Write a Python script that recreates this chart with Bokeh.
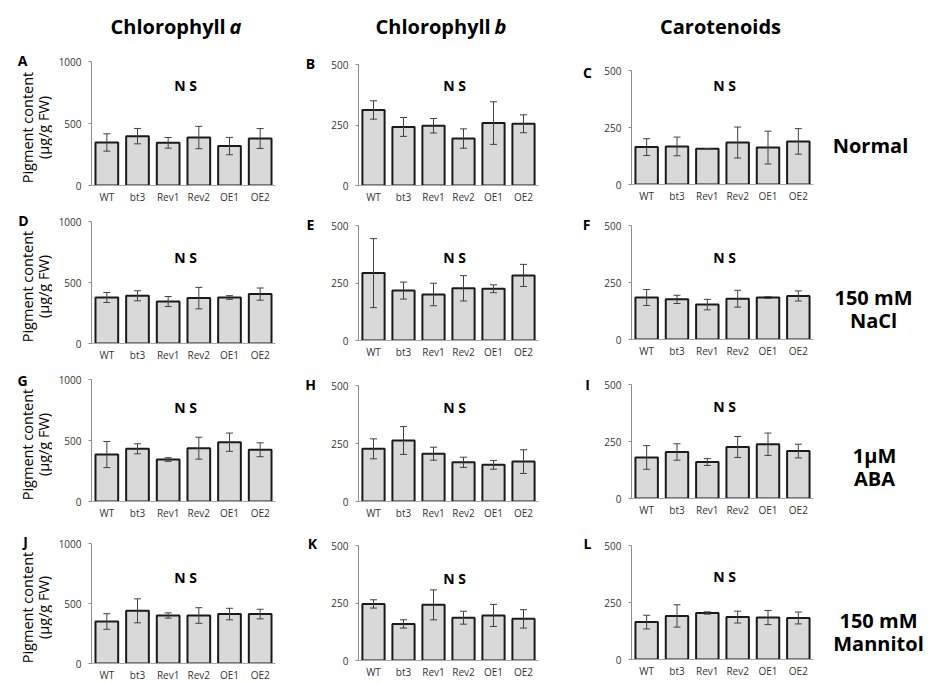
import math
from bokeh.plotting import figure
from bokeh.layouts import column, row
from bokeh.models import (Range1d, FactorRange, FixedTicker, Label, Whisker,
                          TeeHead, ColumnDataSource)
from bokeh.embed import file_html
from bokeh.resources import INLINE

# ---------------- data ----------------
genotypes = ["WT", "bt3", "Rev1", "Rev2", "OE1", "OE2"]
pigments = ["Chlorophyll", "Chlorophyll", "Carotenoids"]
pigment_italic = ["a", "b", ""]
treatments = [["Normal"], ["150 mM", "NaCl"], ["1\u00b5M", "ABA"], ["150 mM", "Mannitol"]]
panel_letters = ["A", "B", "C", "D", "E", "F", "G", "H", "I", "J", "K", "L"]
y_max = [1000, 500, 500]
y_title = ["Pigment content", "(\u00b5g/g FW)"]
ns_text = "N S"

# Normal
chla_normal = [347, 398, 344, 387, 318, 379]
chla_normal_err = [70, 62, 43, 90, 70, 80]
chlb_normal = [312, 242, 247, 194, 258, 255]
chlb_normal_err = [38, 39, 30, 40, 88, 37]
car_normal = [164, 167, 157, 184, 162, 189]
car_normal_err = [37, 41, 0, 68, 72, 56]
# 150 mM NaCl
chla_nacl = [377, 391, 344, 372, 377, 405]
chla_nacl_err = [41, 41, 41, 88, 15, 50]
chlb_nacl = [293, 217, 200, 227, 225, 283]
chlb_nacl_err = [150, 37, 49, 55, 17, 48]
car_nacl = [184, 176, 153, 179, 184, 191]
car_nacl_err = [35, 18, 23, 37, 4, 22]
# 1 uM ABA
chla_aba = [385, 432, 344, 437, 486, 424]
chla_aba_err = [107, 41, 15, 90, 75, 57]
chlb_aba = [227, 263, 206, 169, 158, 172]
chlb_aba_err = [43, 60, 28, 22, 19, 51]
car_aba = [180, 204, 160, 226, 238, 208]
car_aba_err = [52, 36, 15, 46, 49, 30]
# 150 mM Mannitol
chla_man = [350, 439, 400, 400, 412, 412]
chla_man_err = [65, 100, 22, 65, 48, 40]
chlb_man = [246, 159, 242, 186, 196, 181]
chlb_man_err = [18, 18, 65, 28, 48, 40]
car_man = [164, 191, 204, 186, 184, 182]
car_man_err = [30, 49, 5, 26, 31, 26]

panel_values = [
    [(chla_normal, chla_normal_err), (chlb_normal, chlb_normal_err), (car_normal, car_normal_err)],
    [(chla_nacl, chla_nacl_err), (chlb_nacl, chlb_nacl_err), (car_nacl, car_nacl_err)],
    [(chla_aba, chla_aba_err), (chlb_aba, chlb_aba_err), (car_aba, car_aba_err)],
    [(chla_man, chla_man_err), (chlb_man, chlb_man_err), (car_man, car_man_err)],
]

# ---------------- layout (page pixels) ----------------
HEADER_H = 45
row_ext = [(45, 206), (206, 365), (365, 527), (527, 684)]
panel_x = [(52, 300), (320, 578), (596, 825)]
strip_x = [(0, 52), (300, 320), (578, 596), (825, 930)]
frame_x = [(91, 275), (358, 538), (631, 813)]
frame_y = [
    [(61, 186), (64, 187), (70, 184)],
    [(221, 343), (225, 340), (225, 339)],
    [(379, 501), (385, 501), (384, 498)],
    [(543, 664), (545, 660), (545, 659)],
]
letter_pos = [
    [(22, 60), (310, 63), (587, 72)],
    [(23, 220), (310, 224), (586, 224)],
    [(22, 380), (310, 384), (587, 384)],
    [(25, 541), (312, 543), (587, 543)],
]
ns_x = [185, 454, 724]
ns_y = [[86, 87, 85], [257, 257, 257], [407, 407, 406], [578, 578, 576]]
treat_pos = [[(870, 145)], [(873, 297), (873, 320)],
             [(874, 455), (874, 478)], [(878, 620), (878, 643)]]
ytitle_x = [27, 43]
ytitle_y = [127, 286, 444, 607]
header_pos = [(110, 229, 26), (375, 494, 26), (720, None, 26)]

FONT = "Open Sans"


def blank(x0, x1, y0, y1):
    """A figure whose data coordinates equal page pixels (used for text only)."""
    p = figure(width=x1 - x0, height=y1 - y0, title=None,
               x_range=Range1d(x0, x1), y_range=Range1d(y1, y0),
               x_axis_location=None, y_axis_location=None,
               output_backend="svg", toolbar_location=None,
               min_border=0, min_border_left=0, min_border_right=0,
               min_border_top=0, min_border_bottom=0, frame_align=False)
    p.xgrid.visible = False
    p.ygrid.visible = False
    p.outline_line_color = None
    p.background_fill_color = "white"
    p.border_fill_color = "white"
    return p


def txt(p, X, Y, text, size, style="bold", angle=0.0, align="center", units="data",
        fr=None):
    if units == "data":
        x, y = X, Y
    else:
        x, y = X - fr[0], fr[1] - Y
    p.add_layout(Label(x=x, y=y, x_units=units, y_units=units,
                       text=text, text_font=FONT, text_font_size=f"{size}px",
                       text_font_style=style, text_align=align,
                       text_baseline="middle", angle=angle, text_color="black"))


# header strip
header = blank(0, 930, 0, HEADER_H)
for c in range(3):
    hx, ix, hy = header_pos[c]
    if pigment_italic[c]:
        txt(header, hx, hy, pigments[c], 20, align="left")
        txt(header, ix, hy, pigment_italic[c], 20, style="bold italic", align="left")
    else:
        txt(header, hx, hy, pigments[c], 20)

rows = [header]
for r in range(4):
    y0, y1 = row_ext[r]
    strips = [blank(sx0, sx1, y0, y1) for sx0, sx1 in strip_x]
    # y-axis title
    for k in range(2):
        txt(strips[0], ytitle_x[k], ytitle_y[r], y_title[k], 14.5, style="normal",
            angle=math.pi / 2)
    # panel letters
    for c, st in enumerate(strips[:3]):
        lx, ly = letter_pos[r][c]
        txt(st, lx, ly, panel_letters[r * 3 + c], 14)
    # treatment labels
    for t, (tx, ty) in zip(treatments[r], treat_pos[r]):
        txt(strips[3], tx, ty, t, 20)

    panels = []
    for c in range(3):
        cx0, cx1 = panel_x[c]
        fx0, fx1 = frame_x[c]
        fy0, fy1 = frame_y[r][c]
        vals, errs = panel_values[r][c]
        ym = y_max[c]
        p = figure(width=cx1 - cx0, height=y1 - y0, title=None,
                   x_range=FactorRange(factors=genotypes, range_padding=0),
                   y_range=Range1d(0, ym),
                   output_backend="svg", toolbar_location=None,
                   min_border_left=fx0 - cx0, min_border_right=cx1 - fx1,
                   min_border_top=fy0 - y0, min_border_bottom=y1 - fy1,
                   frame_align=False)
        p.outline_line_color = None
        p.background_fill_color = "white"
        p.border_fill_color = "white"
        p.xgrid.visible = False
        p.ygrid.visible = False

        src = ColumnDataSource(dict(
            x=genotypes, top=vals,
            upper=[v + e for v, e in zip(vals, errs)],
            lower=[v - e for v, e in zip(vals, errs)]))
        p.vbar(x="x", top="top", width=0.74, source=src,
               fill_color="#d9d9d9", line_color="#1a1a1a", line_width=2)
        p.add_layout(Whisker(source=src, base="x", upper="upper", lower="lower",
                             line_color="#404040", line_width=1, level="overlay",
                             upper_head=TeeHead(size=7, line_color="#404040", line_width=1),
                             lower_head=TeeHead(size=7, line_color="#404040", line_width=1)))

        xa = p.xaxis[0]
        xa.axis_line_color = "#a6a6a6"
        xa.axis_line_width = 1
        xa.major_tick_line_color = None
        xa.major_tick_out = 0
        xa.major_tick_in = 0
        xa.minor_tick_line_color = None
        xa.minor_tick_out = 0
        xa.major_label_text_font = FONT
        xa.major_label_text_font_size = "10px"
        xa.major_label_text_color = "#333333"
        xa.major_label_standoff = 4

        ya = p.yaxis[0]
        ya.ticker = FixedTicker(ticks=[0, ym // 2, ym])
        ya.axis_line_color = "#8c8c8c"
        ya.major_tick_line_color = "#8c8c8c"
        ya.major_tick_out = 3
        ya.major_tick_in = 0
        ya.minor_tick_line_color = None
        ya.minor_tick_out = 0
        ya.major_label_text_font = FONT
        ya.major_label_text_font_size = "10px"
        ya.major_label_text_color = "#333333"
        ya.major_label_standoff = 7

        txt(p, ns_x[c], ns_y[r][c], ns_text, 14, units="screen", fr=(fx0, fy1))
        panels.append(p)

    rows.append(row(strips[0], panels[0], strips[1], panels[1], strips[2],
                    panels[2], strips[3]))

layout = column(*rows)
open("out.html", "w").write(file_html(layout, INLINE))
